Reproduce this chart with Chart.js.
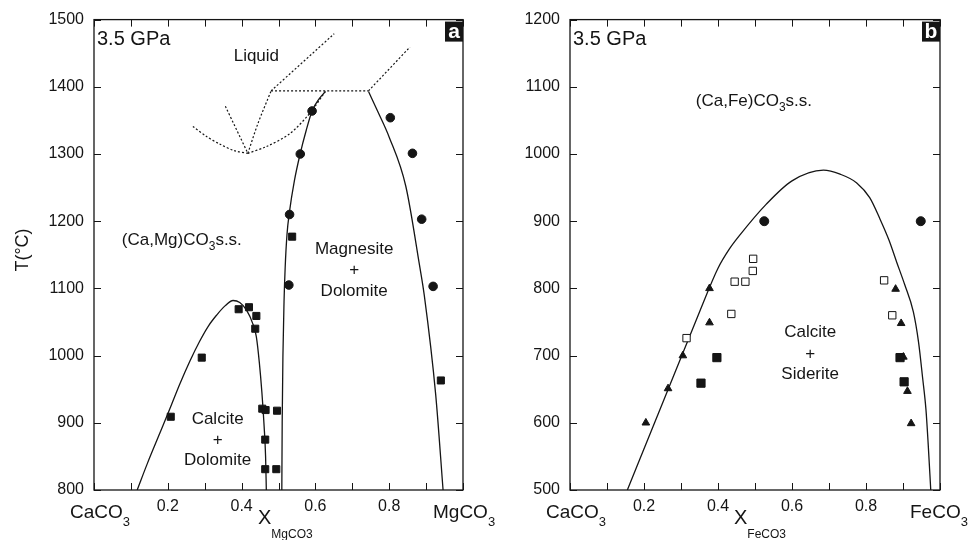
<!DOCTYPE html>
<html>
<head>
<meta charset="utf-8">
<script src="https://cdn.jsdelivr.net/npm/chart.js@4.4.1/dist/chart.umd.min.js"></script>
<style>
  body { margin: 0; background: #fff; width: 971px; height: 540px; position: relative; overflow: hidden; }
  canvas { position: absolute; top: 0; }
  #chartA { left: 0; }
  #chartB { left: 485px; }
</style>
</head>
<body>
<canvas id="chartA" width="530" height="540"></canvas>
<canvas id="chartB" width="486" height="540"></canvas>
<script>
// tick labels (x ticks every 0.1, only some labelled)
const xTickLabels = ['', '', '0.2', '', '0.4', '', '0.6', '', '0.8', '', ''];
const yRangeA = [800, 1500];
const yRangeB = [500, 1200];

// panel a : CaCO3 - MgCO3, [X, T]
const aSquares = [[0.208, 909], [0.292, 997], [0.392, 1069], [0.420, 1072], [0.440, 1059], [0.437, 1040],
  [0.456, 921], [0.465, 919], [0.496, 918], [0.464, 875], [0.464, 831], [0.494, 831], [0.537, 1177], [0.940, 963]];
const aCircles = [[0.528, 1105], [0.530, 1210], [0.559, 1300], [0.591, 1364], [0.803, 1354], [0.863, 1301], [0.888, 1203], [0.919, 1103]];
const aCalDolSolvus = [[0.117, 800], [0.145, 840], [0.178, 884], [0.205, 920], [0.232, 957], [0.26, 992], [0.286, 1021],
  [0.31, 1044], [0.332, 1060], [0.355, 1074], [0.377, 1082], [0.395, 1079], [0.413, 1068], [0.43, 1048], [0.44, 1028],
  [0.448, 990], [0.455, 945], [0.461, 895], [0.465, 850], [0.467, 800]];
const aDolMgsLeft = [[0.509, 800], [0.510, 900], [0.512, 1000], [0.515, 1080], [0.518, 1130], [0.523, 1180], [0.530, 1215],
  [0.543, 1260], [0.559, 1301], [0.575, 1335], [0.591, 1364], [0.61, 1382], [0.627, 1393]];
const aDolMgsRight = [[0.744, 1393], [0.77, 1362], [0.80, 1325], [0.845, 1252], [0.882, 1135], [0.895, 1090], [0.926, 942], [0.946, 800]];
const aLiqLeft = [[0.268, 1341], [0.305, 1326], [0.34, 1315], [0.38, 1305], [0.417, 1301]];
const aLiqUp = [[0.356, 1371], [0.417, 1301]];
const aLiqRise = [[0.417, 1301], [0.444, 1345], [0.48, 1394]];
const aLiqTop = [[0.48, 1394], [0.651, 1479]];
const aLiqFlat = [[0.48, 1394], [0.744, 1394]];
const aLiqRight = [[0.744, 1394], [0.856, 1459]];
const aLiqDol = [[0.417, 1301], [0.467, 1311], [0.53, 1330], [0.584, 1360], [0.627, 1393]];

// panel b : CaCO3 - FeCO3
const bTriangles = [[0.205, 600], [0.265, 651], [0.305, 700], [0.377, 800], [0.377, 749],
  [0.880, 799], [0.895, 748], [0.901, 698], [0.912, 647], [0.922, 599]];
const bFilledSquares = [[0.354, 659], [0.397, 697], [0.892, 697], [0.903, 661]];
const bOpenSquares = [[0.315, 726], [0.436, 762], [0.445, 810], [0.474, 810], [0.494, 826], [0.495, 844], [0.849, 812], [0.871, 760]];
const bCircles = [[0.525, 900], [0.948, 900]];
const bSolvus = [[0.155, 500], [0.25, 629], [0.35, 765], [0.40, 830], [0.43, 858], [0.46, 880], [0.53, 925], [0.60, 960],
  [0.685, 976], [0.73, 970], [0.775, 957], [0.81, 935], [0.838, 903], [0.862, 872], [0.883, 839], [0.905, 805],
  [0.928, 765], [0.942, 720], [0.953, 667], [0.962, 620], [0.968, 569], [0.975, 500]];

const FONT = '"Liberation Sans", Arial, Helvetica, sans-serif';
const INK = '#151515';
Chart.defaults.font.family = FONT;
Chart.defaults.color = INK;

const toXY = arr => arr.map(p => ({ x: p[0], y: p[1] }));

function solid(arr) {
  return { data: toXY(arr), showLine: true, borderColor: INK, borderWidth: 1.3, pointRadius: 0,
    cubicInterpolationMode: 'monotone', fill: false, order: 5 };
}
function dotted(arr) {
  return { data: toXY(arr), showLine: true, borderColor: INK, borderWidth: 1.2, borderDash: [2, 2], pointRadius: 0, tension: 0.3, fill: false, order: 5 };
}
function marks(arr, style, r, fill) {
  return { data: toXY(arr), showLine: false, pointStyle: style, pointRadius: r, pointBackgroundColor: fill,
    pointBorderColor: INK, pointBorderWidth: 1, order: 1 };
}

// draw a run of text pieces [text, size, dy]
function rich(ctx, segs, x, y, align) {
  const widths = segs.map(s => { ctx.font = s[1] + 'px ' + FONT; return ctx.measureText(s[0]).width; });
  const total = widths.reduce((a, b) => a + b, 0);
  let cx = align === 'center' ? x - total / 2 : x;
  ctx.textAlign = 'left';
  ctx.textBaseline = 'middle';
  segs.forEach((s, i) => {
    ctx.font = s[1] + 'px ' + FONT;
    ctx.fillText(s[0], cx, y + (s[2] || 0));
    cx += widths[i];
  });
}

function decor(letter, endName, subName, labels) {
  return {
    id: 'decor' + letter,
    afterDraw(chart) {
      const { ctx, chartArea: ca, scales: { x, y } } = chart;
      ctx.save();
      ctx.strokeStyle = INK;
      ctx.lineWidth = 1.3;
      ctx.strokeRect(ca.left, ca.top, ca.right - ca.left, ca.bottom - ca.top);
      // inward ticks on all four sides
      ctx.lineWidth = 1;
      ctx.beginPath();
      x.ticks.forEach(t => {
        const px = Math.round(x.getPixelForValue(t.value)) + 0.5;
        ctx.moveTo(px, ca.bottom); ctx.lineTo(px, ca.bottom - 7);
        ctx.moveTo(px, ca.top); ctx.lineTo(px, ca.top + 7);
      });
      y.ticks.forEach(t => {
        const py = Math.round(y.getPixelForValue(t.value)) + 0.5;
        ctx.moveTo(ca.left, py); ctx.lineTo(ca.left + 7, py);
        ctx.moveTo(ca.right, py); ctx.lineTo(ca.right - 7, py);
      });
      ctx.stroke();

      // panel letter
      ctx.fillStyle = INK;
      ctx.fillRect(ca.right - 18, ca.top + 2, 18, 20);
      ctx.fillStyle = '#fff';
      ctx.font = 'bold 21px ' + FONT;
      ctx.textAlign = 'center';
      ctx.textBaseline = 'middle';
      ctx.fillText(letter, ca.right - 9, ca.top + 13);

      ctx.fillStyle = INK;
      rich(ctx, [['3.5 GPa', 20]], ca.left + 3, ca.top + 20, 'left');

      // axis end members and x title
      rich(ctx, [['CaCO', 19], ['3', 13, 9]], ca.left - 24, ca.bottom + 23, 'left');
      rich(ctx, [[endName, 19], ['3', 13, 9]], ca.right - 30, ca.bottom + 23, 'left');
      rich(ctx, [['X', 20], [subName, 12, 17]], ca.left + 164, ca.bottom + 28, 'left');

      // labels inside the plot
      labels.forEach(l => {
        rich(ctx, l.segs, x.getPixelForValue(l.x), y.getPixelForValue(l.y) + (l.dy || 0), 'center');
      });
      ctx.restore();
    }
  };
}

function scalesFor(yr, yWidth) {
  return {
    x: {
      type: 'linear', min: 0, max: 1,
      grid: { display: false, drawTicks: false }, border: { display: false },
      ticks: { stepSize: 0.1, autoSkip: false, maxRotation: 0, padding: 7, font: { size: 16 }, color: INK,
        callback: v => xTickLabels[Math.round(v * 10)] },
      afterFit: s => { s.height = 50; }
    },
    y: {
      min: yr[0], max: yr[1],
      grid: { display: false, drawTicks: false }, border: { display: false },
      ticks: { stepSize: 100, padding: 10, font: { size: 16 }, color: INK, callback: v => String(v) },
      afterFit: s => { s.width = yWidth; }
    }
  };
}

const baseOpts = {
  responsive: false,
  animation: false,
  devicePixelRatio: 1,
  plugins: { legend: { display: false }, tooltip: { enabled: false } }
};

new Chart(document.getElementById('chartA'), {
  type: 'scatter',
  data: {
    datasets: [
      marks(aSquares, 'rect', 5, INK),
      marks(aCircles, 'circle', 4.3, INK),
      solid(aCalDolSolvus),
      solid(aDolMgsLeft),
      solid(aDolMgsRight),
      dotted(aLiqLeft), dotted(aLiqUp), dotted(aLiqRise), dotted(aLiqTop),
      dotted(aLiqFlat), dotted(aLiqRight), dotted(aLiqDol)
    ]
  },
  options: Object.assign({}, baseOpts, {
    layout: { padding: { top: 15, right: 67, left: 0, bottom: 0 } },
    scales: scalesFor(yRangeA, 94)
  }),
  plugins: [decor('a', 'MgCO', 'MgCO3', [
    { x: 0.44, y: 1445, segs: [['Liquid', 17]] },
    { x: 0.238, y: 1171, segs: [['(Ca,Mg)CO', 17], ['3', 12, 6], ['s.s.', 17]] },
    { x: 0.705, y: 1127, dy: -21, segs: [['Magnesite', 17]] },
    { x: 0.705, y: 1127, segs: [['+', 17]] },
    { x: 0.705, y: 1127, dy: 21, segs: [['Dolomite', 17]] },
    { x: 0.335, y: 874, dy: -21, segs: [['Calcite', 17]] },
    { x: 0.335, y: 874, segs: [['+', 17]] },
    { x: 0.335, y: 874, dy: 20, segs: [['Dolomite', 17]] }
  ]), {
    id: 'ytitle',
    afterDraw(chart) {
      const ctx = chart.ctx;
      ctx.save();
      ctx.translate(23, 250);
      ctx.rotate(-Math.PI / 2);
      ctx.fillStyle = INK;
      ctx.font = '18px ' + FONT;
      ctx.textAlign = 'center';
      ctx.textBaseline = 'middle';
      ctx.fillText('T(°C)', 0, 0);
      ctx.restore();
    }
  }]
});

new Chart(document.getElementById('chartB'), {
  type: 'scatter',
  data: {
    datasets: [
      marks(bTriangles, 'triangle', 4.4, INK),
      marks(bFilledSquares, 'rect', 5.8, INK),
      marks(bOpenSquares, 'rect', 5.2, '#fff'),
      marks(bCircles, 'circle', 4.5, INK),
      solid(bSolvus)
    ]
  },
  options: Object.assign({}, baseOpts, {
    layout: { padding: { top: 15, right: 31, left: 0, bottom: 0 } },
    scales: scalesFor(yRangeB, 85)
  }),
  plugins: [decor('b', 'FeCO', 'FeCO3', [
    { x: 0.497, y: 1078, segs: [['(Ca,Fe)CO', 17], ['3', 12, 6], ['s.s.', 17]] },
    { x: 0.649, y: 702, dy: -22, segs: [['Calcite', 17]] },
    { x: 0.649, y: 702, segs: [['+', 17]] },
    { x: 0.649, y: 702, dy: 20, segs: [['Siderite', 17]] }
  ])]
});
</script>
</body>
</html>
